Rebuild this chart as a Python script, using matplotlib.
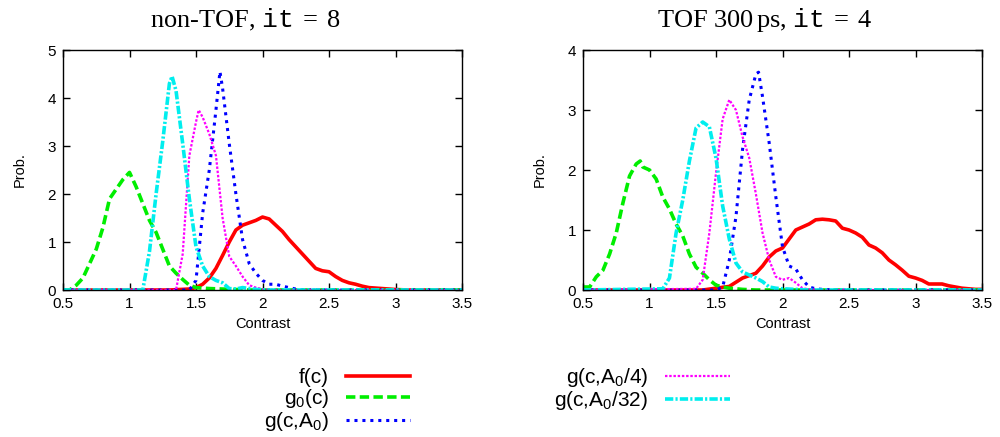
import matplotlib as mpl
mpl.use("Agg")
import matplotlib.pyplot as plt

############################
#% DATA
############################
# left panel: non-TOF, it = 8
nt_f_x = [0.5, 1.3, 1.45, 1.5, 1.55, 1.6, 1.65, 1.7, 1.75, 1.8, 1.85, 1.9, 1.95, 2.0, 2.05,
          2.1, 2.15, 2.2, 2.25, 2.3, 2.35, 2.4, 2.45, 2.5, 2.55, 2.6, 2.65, 2.7, 2.75,
          2.8, 2.9, 3.0, 3.1, 3.5]
nt_f_y = [0, 0, 0.02, 0.05, 0.12, 0.25, 0.45, 0.72, 1.0, 1.25, 1.35, 1.4, 1.45, 1.52, 1.48,
          1.35, 1.22, 1.05, 0.9, 0.75, 0.6, 0.45, 0.4, 0.38, 0.28, 0.2, 0.15, 0.12, 0.08,
          0.05, 0.03, 0.01, 0, 0]
nt_g0_x = [0.5, 0.55, 0.6, 0.65, 0.7, 0.75, 0.8, 0.85, 0.9, 0.95, 1.0, 1.05, 1.1, 1.15,
           1.2, 1.25, 1.3, 1.35, 1.4, 1.45, 1.5, 1.6, 1.7, 1.8, 1.9, 3.5]
nt_g0_y = [0, 0, 0.1, 0.25, 0.55, 0.85, 1.3, 1.9, 2.1, 2.3, 2.45, 2.15, 1.8, 1.45,
           1.2, 0.85, 0.5, 0.35, 0.22, 0.1, 0.05, 0.03, 0.02, 0.01, 0, 0]
nt_ga_x = [0.5, 1.45, 1.5, 1.55, 1.6, 1.65, 1.68, 1.7, 1.75, 1.8, 1.85, 1.9, 1.95, 2.0,
           2.05, 2.1, 2.15, 2.2, 2.25, 2.3, 3.5]
nt_ga_y = [0, 0, 0.2, 1.6, 2.5, 3.75, 4.55, 4.2, 3.05, 2.0, 1.05, 0.55, 0.35, 0.2,
           0.12, 0.12, 0.08, 0.05, 0.02, 0, 0]
nt_ga4_x = [0.5, 1.35, 1.4, 1.45, 1.5, 1.52, 1.55, 1.6, 1.65, 1.7, 1.75, 1.8, 1.85, 1.9,
            1.95, 2.0, 2.1, 2.35, 2.4, 2.45, 3.5]
nt_ga4_y = [0, 0, 0.75, 2.8, 3.5, 3.75, 3.6, 3.25, 2.8, 1.5, 0.7, 0.5, 0.28, 0.1,
            0.05, 0.02, 0, 0, 0.02, 0, 0]
nt_ga32_x = [0.5, 1.1, 1.15, 1.2, 1.25, 1.3, 1.32, 1.35, 1.4, 1.45, 1.5, 1.55, 1.6, 1.65,
             1.7, 1.75, 1.8, 1.85, 1.9, 2.0, 3.5]
nt_ga32_y = [0, 0, 0.8, 2.0, 3.1, 4.3, 4.45, 4.15, 3.05, 1.9, 0.9, 0.5, 0.28, 0.2,
             0.15, 0.03, 0.02, 0.05, 0.03, 0, 0]

# right panel: TOF 300 ps, it = 4
tof_f_x = [0.5, 1.4, 1.5, 1.6, 1.7, 1.8, 1.85, 1.9, 1.95, 2.0, 2.05, 2.1, 2.15, 2.2, 2.25,
           2.3, 2.35, 2.4, 2.45, 2.5, 2.55, 2.6, 2.65, 2.7, 2.75, 2.8, 2.85, 2.9, 2.95,
           3.0, 3.05, 3.1, 3.15, 3.2, 3.25, 3.3, 3.35, 3.4, 3.45, 3.5]
tof_f_y = [0, 0, 0.03, 0.06, 0.2, 0.28, 0.4, 0.55, 0.65, 0.7, 0.85, 1.0, 1.05, 1.1, 1.17,
           1.18, 1.17, 1.15, 1.03, 1.0, 0.95, 0.88, 0.75, 0.7, 0.62, 0.5, 0.42, 0.33, 0.23,
           0.2, 0.16, 0.1, 0.1, 0.1, 0.07, 0.05, 0.03, 0.02, 0.01, 0.01]
tof_g0_x = [0.5, 0.55, 0.6, 0.65, 0.7, 0.75, 0.8, 0.85, 0.9, 0.93, 0.95, 1.0, 1.05, 1.1,
            1.15, 1.2, 1.25, 1.3, 1.35, 1.4, 1.45, 1.5, 1.55, 1.6, 1.7, 1.8, 3.5]
tof_g0_y = [0.05, 0.05, 0.22, 0.33, 0.6, 0.95, 1.45, 1.9, 2.1, 2.15, 2.05, 2.0, 1.85, 1.55,
            1.35, 1.1, 0.9, 0.6, 0.38, 0.28, 0.17, 0.08, 0.05, 0.03, 0.01, 0, 0]
tof_ga_x = [0.5, 1.5, 1.55, 1.6, 1.65, 1.7, 1.75, 1.8, 1.82, 1.85, 1.9, 1.95, 2.0, 2.05,
            2.1, 2.15, 2.2, 2.25, 2.3, 2.4, 3.5]
tof_ga_y = [0, 0, 0.05, 0.5, 1.22, 2.35, 3.17, 3.6, 3.63, 3.22, 2.45, 1.55, 0.72, 0.4,
            0.35, 0.17, 0.05, 0.02, 0.01, 0, 0]
tof_ga4_x = [0.5, 1.35, 1.4, 1.45, 1.5, 1.55, 1.6, 1.65, 1.7, 1.75, 1.8, 1.85, 1.9, 1.95,
             2.0, 2.05, 2.1, 2.15, 2.2, 2.3, 3.5]
tof_ga4_y = [0, 0.02, 0.17, 0.95, 1.95, 2.85, 3.17, 3.0, 2.55, 2.2, 1.6, 0.95, 0.5, 0.22,
             0.17, 0.2, 0.12, 0.03, 0.01, 0, 0]
tof_ga32_x = [0.5, 1.1, 1.15, 1.2, 1.25, 1.3, 1.35, 1.4, 1.45, 1.5, 1.55, 1.6, 1.65, 1.7,
              1.75, 1.8, 1.85, 1.9, 1.95, 2.0, 2.1, 2.2, 3.5]
tof_ga32_y = [0, 0.02, 0.2, 0.95, 1.5, 2.15, 2.7, 2.8, 2.72, 2.2, 1.4, 0.85, 0.45, 0.3,
              0.25, 0.2, 0.14, 0.05, 0.03, 0.02, 0.01, 0, 0]

labels = [r"f(c)", r"g$_\mathsf{0}$(c)", r"g(c,A$_\mathsf{0}$)",
          r"g(c,A$_\mathsf{0}$/4)", r"g(c,A$_\mathsf{0}$/32)"]
titles = [r"non-TOF, $\mathtt{it}\;=\;8$", r"TOF 300$\,$ps, $\mathtt{it}\;=\;4$"]
ymax = [5, 4]

############################
#% STYLE
############################
plt.rcParams['font.family'] = ['Liberation Sans', 'DejaVu Sans']
plt.rcParams['mathtext.fontset'] = 'custom'
plt.rcParams['mathtext.rm'] = 'Liberation Serif'
plt.rcParams['mathtext.it'] = 'Liberation Serif:italic'
plt.rcParams['mathtext.tt'] = 'Liberation Mono'
plt.rcParams['mathtext.sf'] = 'Liberation Sans'
plt.rcParams['axes.linewidth'] = 1.0

styles = [
    dict(color='#ff0000', lw=2.6, linestyle='-'),
    dict(color='#00ee00', lw=2.6, dashes=(2.6, 1.2)),
    dict(color='#0000ff', lw=2.2, dashes=(1.0, 1.6)),
    dict(color='#ff00ff', lw=1.6, dashes=(1.1, 0.8)),
    dict(color='#00eeee', lw=2.6, dashes=(2.3, 0.6, 0.6, 0.6)),
]

panels = [
    [(nt_f_x, nt_f_y), (nt_g0_x, nt_g0_y), (nt_ga_x, nt_ga_y),
     (nt_ga4_x, nt_ga4_y), (nt_ga32_x, nt_ga32_y)],
    [(tof_f_x, tof_f_y), (tof_g0_x, tof_g0_y), (tof_ga_x, tof_ga_y),
     (tof_ga4_x, tof_ga4_y), (tof_ga32_x, tof_ga32_y)],
]

W, H = 1000, 437
fig = plt.figure(figsize=(W / 100, H / 100), dpi=100)

ax_left = [63, 583]
handles = []
for k, series in enumerate(panels):
    ax = fig.add_axes([ax_left[k] / W, 1 - 290 / H, 399 / W, 240 / H])
    for (x, y), st, lab in zip(series, styles, labels):
        ln, = ax.plot(x, y, label=lab, **st)
        if k == 0:
            handles.append(ln)
    ax.set_xlim(0.5, 3.5)
    ax.set_ylim(0, ymax[k])
    ax.set_xticks([0.5, 1, 1.5, 2, 2.5, 3, 3.5])
    ax.set_xticklabels(['0.5', '1', '1.5', '2', '2.5', '3', '3.5'])
    ax.set_yticks(range(ymax[k] + 1))
    ax.tick_params(direction='in', top=True, right=True, length=5, width=1,
                   labelsize=11, pad=5)
    ax.set_xlabel('Contrast', fontsize=10.5, labelpad=4)
    ax.set_ylabel('Prob.', fontsize=10.5, labelpad=15)
    # title sits slightly left of the axes centre, like gnuplot
    fig.text((ax_left[k] + 182) / W, 1 - 20 / H, titles[k], ha='center', va='center',
             fontsize=19, family='Liberation Serif')

fig.legend(handles=handles, loc='upper left', bbox_to_anchor=(0.264, 1 - 366 / H),
           ncol=2, markerfirst=False, frameon=False, fontsize=15,
           handlelength=3.1, handletextpad=0.8, columnspacing=6.9,
           labelspacing=0.0, borderpad=0, borderaxespad=0)

fig.savefig('out.png', dpi=100)
